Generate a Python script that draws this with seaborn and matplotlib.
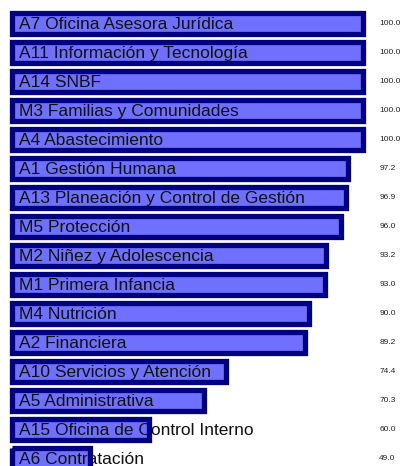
import numpy as np
import pandas as pd
import matplotlib
matplotlib.use('Agg')
import matplotlib.pyplot as plt
import seaborn as sns

# Data
areas = ['A7 Oficina Asesora Jurídica', 'A11 Información y Tecnología', 'A14 SNBF',
         'M3 Familias y Comunidades', 'A4 Abastecimiento', 'A1 Gestión Humana',
         'A13 Planeación y Control de Gestión', 'M5 Protección', 'M2 Niñez y Adolescencia',
         'M1 Primera Infancia', 'M4 Nutrición', 'A2 Financiera', 'A10 Servicios y Atención',
         'A5 Administrativa', 'A15 Oficina de Control Interno', 'A6 Contratación']
scores = [100.0, 100.0, 100.0, 100.0, 100.0, 97.2, 96.9, 96.0, 93.2, 93.0, 90.0, 89.2,
          74.4, 70.3, 60.0, 49.0]

df = pd.DataFrame({'Area': areas, 'Score': scores})

BASE = 34.5  # where the bars start on the x axis

sns.set_style('white')
plt.rcParams['font.family'] = ['Liberation Sans', 'DejaVu Sans']

fig = plt.figure(figsize=(4.03, 4.66), dpi=100)
ax = fig.add_axes([0, -0.0146, 1, 0.9957])

# fill of the bars (bottom layer)
sns.barplot(data=df, x='Score', y='Area', orient='h', ax=ax, width=0.72,
            saturation=1, color='#7070ff')
n = len(ax.patches)
# border of the bars, drawn again on top of the labels
sns.barplot(data=df, x='Score', y='Area', orient='h', ax=ax, width=0.72,
            saturation=1, fill=False, color='#000080')

for k, p in enumerate(ax.patches):
    w = p.get_width()
    p.set_x(BASE)
    p.set_width(w - BASE)
    if k < n:
        p.set_facecolor('#7070ff')
        p.set_edgecolor('none')
        p.set_zorder(1)
    else:
        p.set_facecolor('none')
        p.set_edgecolor('#000080')
        p.set_linewidth(3.8)
        p.set_zorder(3)

for i, row in df.iterrows():
    ax.text(BASE + 1.3, i + 0.2, row['Area'], fontsize=12.5, va='baseline', ha='left',
            color='#111111', zorder=2)
    ax.text(0.941, i, f"{row['Score']:.1f}", fontsize=6, va='center', ha='left',
            color='#222222', transform=ax.get_yaxis_transform(), zorder=3)

ax.set_xlim(32.2, 107.5)
ax.set_ylim(15.5, -0.5)
ax.axis('off')

plt.savefig('out.png', dpi=100)
